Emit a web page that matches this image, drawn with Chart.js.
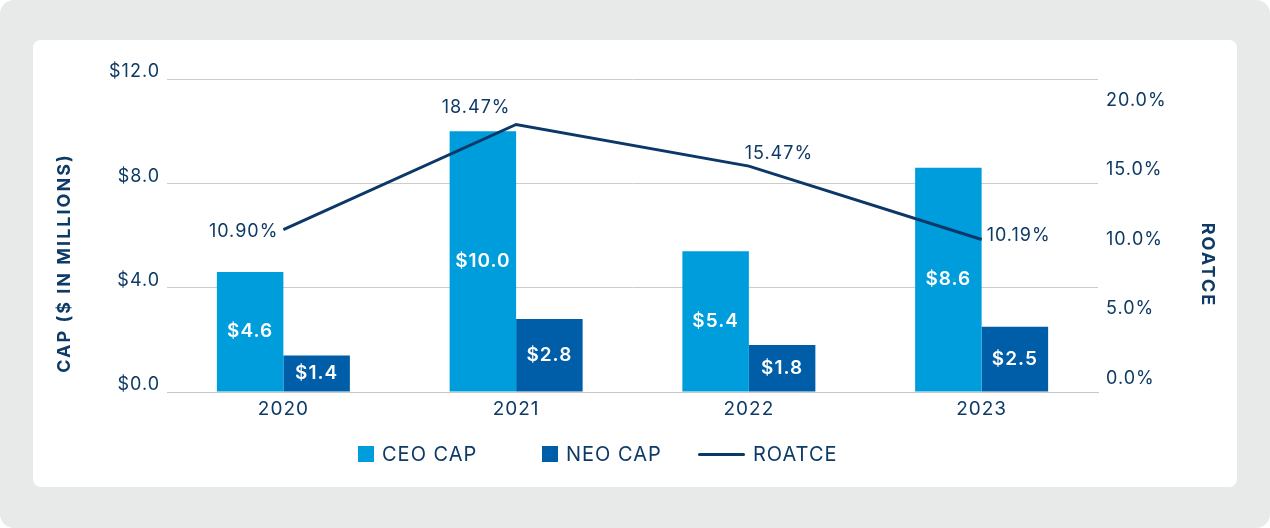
<!DOCTYPE html>
<html><head><meta charset="utf-8">
<script src="https://cdn.jsdelivr.net/npm/chart.js@4.4.1/dist/chart.umd.min.js"></script>
<style>
html,body{margin:0;padding:0;width:1270px;height:528px;background:#fff;overflow:hidden;font-family:Inter,sans-serif}
#bg{position:absolute;left:0;top:0;width:1270px;height:528px;background:#e8eaea;border-radius:14px}
#card{position:absolute;left:33px;top:40px;width:1204px;height:447px;background:#fff;border-radius:8px}
#c{position:absolute;left:0;top:0}
#legend{position:absolute;top:442px;left:358px;height:24px;display:flex;align-items:center;color:#0e3a66;font-size:20px;letter-spacing:1px}
.it{display:flex;align-items:center}
.sw{width:16px;height:16px;margin-right:8px}
.ln{width:47px;height:3px;border-radius:2px;margin-right:8px}
</style></head>
<body>
<div id="bg"></div><div id="card"></div>
<canvas id="c" width="1270" height="528"></canvas>
<div id="legend"></div>
<script>
const categories = ['2020', '2021', '2022', '2023'];
const ceoCap = [4.6, 10.0, 5.4, 8.6];
const neoCap = [1.4, 2.8, 1.8, 2.5];
const roatce = [10.90, 18.47, 15.47, 10.19];
const leftTicks = [0, 4, 8, 12];
const rightTicks = [0, 5, 10, 15, 20];
const seriesNames = ['CEO CAP', 'NEO CAP', 'ROATCE'];

const NAVY = '#0e3a66';
const CEO_COLOR = '#009ddc';
const NEO_COLOR = '#005ea8';
const LINE_COLOR = '#0b3868';
const FONT = 'Inter, sans-serif';

const spacingPlugin = {
  id: 'spacing',
  beforeInit(chart) { chart.ctx.letterSpacing = '1px'; },
  beforeUpdate(chart) { chart.ctx.letterSpacing = '1px'; },
  beforeDraw(chart) { chart.ctx.letterSpacing = '1px'; }
};

const labelPlugin = {
  id: 'labels',
  afterDatasetsDraw(chart) {
    const ctx = chart.ctx;
    ctx.save();
    ctx.letterSpacing = '1px';
    [0, 1].forEach(di => {
      const meta = chart.getDatasetMeta(di);
      const vals = chart.data.datasets[di].data;
      ctx.fillStyle = '#ffffff';
      ctx.font = '600 19px ' + FONT;
      ctx.textAlign = 'center';
      ctx.textBaseline = 'middle';
      meta.data.forEach((el, i) => {
        ctx.fillText('$' + vals[i].toFixed(1), el.x, (el.y + el.base) / 2);
      });
    });
    const lm = chart.getDatasetMeta(2);
    const place = ['left', 'aboveLeft', 'aboveRight', 'right'];
    ctx.fillStyle = NAVY;
    ctx.font = '400 18px ' + FONT;
    ctx.textBaseline = 'middle';
    lm.data.forEach((el, i) => {
      const t = roatce[i].toFixed(2) + '%';
      const p = place[i];
      if (p === 'left') { ctx.textAlign = 'right'; ctx.fillText(t, el.x - 5, el.y + 2); }
      else if (p === 'right') { ctx.textAlign = 'left'; ctx.fillText(t, el.x + 5, el.y - 4); }
      else if (p === 'aboveLeft') { ctx.textAlign = 'center'; ctx.fillText(t, el.x - 40, el.y - 17); }
      else { ctx.textAlign = 'center'; ctx.fillText(t, el.x + 30, el.y - 13); }
    });
    ctx.restore();
  },
  afterDraw(chart) {
    const ctx = chart.ctx;
    [['CAP ($ IN MILLIONS)', 65, 263, -Math.PI / 2], ['ROATCE', 1207, 265, Math.PI / 2]].forEach(([t, x, y, r]) => {
      ctx.save();
      ctx.letterSpacing = '2px';
      ctx.fillStyle = NAVY;
      ctx.font = '700 18px ' + FONT;
      ctx.textAlign = 'center';
      ctx.textBaseline = 'middle';
      ctx.translate(x, y);
      ctx.rotate(r);
      ctx.fillText(t, 0, 0);
      ctx.restore();
    });
  }
};

const chart = new Chart(document.getElementById('c'), {
  data: {
    labels: categories,
    datasets: [
      { type: 'bar', label: seriesNames[0], data: ceoCap, backgroundColor: CEO_COLOR, yAxisID: 'y', order: 2,
        categoryPercentage: 0.5714, barPercentage: 1.0 },
      { type: 'bar', label: seriesNames[1], data: neoCap, backgroundColor: NEO_COLOR, yAxisID: 'y', order: 2,
        categoryPercentage: 0.5714, barPercentage: 1.0 },
      { type: 'line', label: seriesNames[2], data: roatce, borderColor: LINE_COLOR, borderWidth: 3, pointRadius: 0,
        tension: 0, yAxisID: 'y1', order: 0, fill: false }
    ]
  },
  options: {
    responsive: false,
    devicePixelRatio: 1,
    animation: false,
    layout: { padding: { top: 79, bottom: 96, left: 0, right: 0 } },
    plugins: { legend: { display: false }, tooltip: { enabled: false } },
    scales: {
      x: {
        grid: { display: false, drawTicks: false },
        border: { display: true, color: '#c8c8c8', width: 1 },
        ticks: { color: NAVY, font: { family: FONT, size: 19 }, padding: 6 },
        afterFit(s) { s.height = 40; }
      },
      y: {
        position: 'left', min: 0, max: 12,
        afterBuildTicks(s) { s.ticks = leftTicks.map(v => ({ value: v })); },
        grid: { color: '#cccccc', drawTicks: false },
        border: { display: false },
        ticks: { color: NAVY, font: { family: FONT, size: 18 }, padding: 7, labelOffset: -7,
          callback: v => '$' + Number(v).toFixed(1) },
        afterFit(s) { s.width = 167; }
      },
      y1: {
        position: 'right', min: -0.78, max: 21.74,
        afterBuildTicks(s) { s.ticks = rightTicks.map(v => ({ value: v })); },
        grid: { display: false, drawTicks: false },
        border: { display: false },
        ticks: { color: NAVY, font: { family: FONT, size: 18 }, padding: 8, labelOffset: -3,
          callback: v => Number(v).toFixed(1) + '%' },
        afterFit(s) { s.width = 172; }
      }
    }
  },
  plugins: [spacingPlugin, labelPlugin]
});

// HTML legend built from dataset definitions
const lg = document.getElementById('legend');
const widths = [184, 156, 0];
chart.data.datasets.forEach((ds, i) => {
  const it = document.createElement('div');
  it.className = 'it';
  if (widths[i]) it.style.width = widths[i] + 'px';
  const sw = document.createElement('div');
  if (ds.type === 'line') { sw.className = 'ln'; sw.style.background = ds.borderColor; }
  else { sw.className = 'sw'; sw.style.background = ds.backgroundColor; }
  const tx = document.createElement('span');
  tx.textContent = ds.label;
  it.appendChild(sw); it.appendChild(tx);
  lg.appendChild(it);
});
</script>
</body></html>
